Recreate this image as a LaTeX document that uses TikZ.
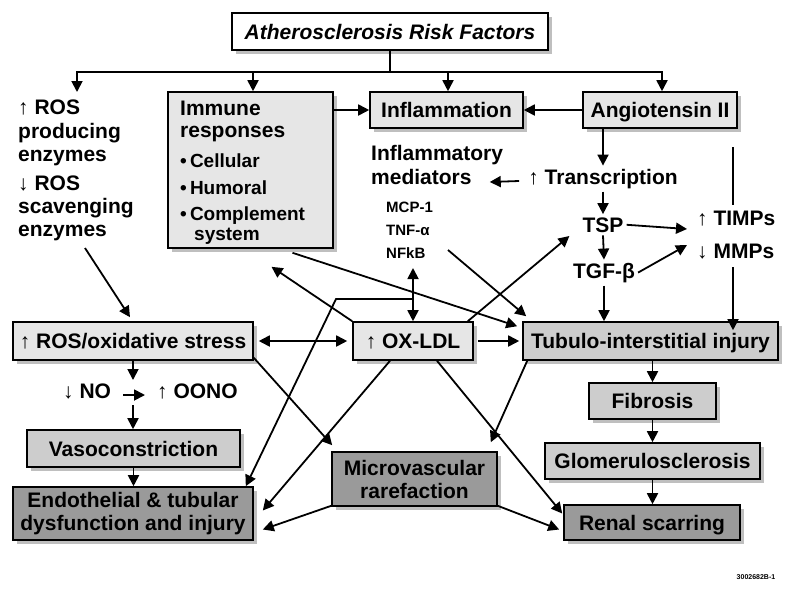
\documentclass[tikz,border=0pt]{standalone}
\usepackage{fontspec}
\setmainfont{Liberation Sans}
\usetikzlibrary{arrows.meta,shadows,calc}
\definecolor{lightbox}{HTML}{E6E6E6}
\definecolor{midbox}{HTML}{CDCDCD}
\definecolor{darkbox}{HTML}{9A9A9A}
\newcommand{\upar}{{\mdseries ↑}}
\newcommand{\dnar}{{\mdseries ↓}}
\begin{document}
\begin{tikzpicture}[x=1pt,y=-1pt,
  bx/.style={draw=black, line width=1.6pt, inner sep=0pt, align=center,
    font=\bfseries\fontsize{21}{23}\selectfont,
    drop shadow={shadow xshift=3.5pt, shadow yshift=-3.5pt, fill=black!50}},
  lb/.style={bx, fill=lightbox},
  mb/.style={bx, fill=midbox},
  db/.style={bx, fill=darkbox},
  one/.style={text height=15pt, text depth=0pt},
  txt/.style={anchor=base west, inner sep=0pt, font=\bfseries\fontsize{21}{23}\selectfont},
  btxt/.style={anchor=base west, inner sep=0pt, font=\bfseries\fontsize{19}{21}\selectfont},
  stxt/.style={anchor=base west, inner sep=0pt, font=\bfseries\fontsize{15}{17}\selectfont},
  ctxt/.style={anchor=base, inner sep=3pt, font=\bfseries\fontsize{21}{23}\selectfont},
  arr/.style={line width=1.8pt, -{Triangle[length=11pt,width=11pt]}},
  darr/.style={line width=1.8pt, {Triangle[length=11pt,width=11pt]}-{Triangle[length=11pt,width=11pt]}},
  ln/.style={line width=1.8pt}]
\useasboundingbox[fill=white] (0,0) rectangle (800,590);

% boxes
\node[bx, one, fill=white, minimum width=316pt, minimum height=37pt,
  font=\bfseries\itshape\fontsize{21}{23}\selectfont] (title) at (390,31.5) {Atherosclerosis Risk Factors};
\node[lb, minimum width=165pt, minimum height=156pt] (immune) at (250.5,170) {};
\node[lb, one, minimum width=153pt, minimum height=36pt] (infl) at (446.5,110) {Inflammation};
\node[lb, one, minimum width=154pt, minimum height=36pt] (ang) at (660,110) {Angiotensin II};
\node[lb, one, minimum width=240pt, minimum height=38pt] (rosbox) at (133,341) {\upar\ ROS/oxidative stress};
\node[lb, one, minimum width=120pt, minimum height=38pt] (oxldl) at (413,341) {\upar\ OX-LDL};
\node[mb, one, minimum width=255pt, minimum height=38pt] (tub) at (650.5,341) {Tubulo-interstitial injury};
\node[mb, one, minimum width=213pt, minimum height=37pt] (vaso) at (133.5,448.5) {Vasoconstriction};
\node[db, minimum width=240pt, minimum height=53pt] (endo) at (133,513.5) {Endothelial \& tubular\\dysfunction and injury};
\node[db, minimum width=165pt, minimum height=54pt] (micro) at (414.5,479) {Microvascular\\rarefaction};
\node[mb, one, minimum width=127pt, minimum height=36pt] (fib) at (652.5,401) {Fibrosis};
\node[mb, one, minimum width=215pt, minimum height=36pt] (glom) at (652.5,461) {Glomerulosclerosis};
\node[db, one, minimum width=176pt, minimum height=35pt] (renal) at (652,522.5) {Renal scarring};

% immune box text
\node[txt] (imm1) at (180,115) {Immune};
\node[txt] (imm2) at (180,137) {responses};
\node[btxt] (imm3) at (180,167) {•\,Cellular};
\node[btxt] (imm4) at (180,194) {•\,Humoral};
\node[btxt] (imm5) at (180,220) {•\,Complement};
\node[btxt] (imm6) at (194,240) {system};

% left ROS text
\node[txt] (ros1) at (18,114) {\upar\ ROS};
\node[txt] (ros2) at (18,138) {producing};
\node[txt] (ros3) at (18,161) {enzymes};
\node[txt] (ros4) at (18,190) {\dnar\ ROS};
\node[txt] (ros5) at (18,213) {scavenging};
\node[txt] (ros6) at (18,236) {enzymes};

% mediators
\node[txt] (med1) at (371,160) {Inflammatory};
\node[txt] (med2) at (371,184) {mediators};
\node[stxt] (mcp) at (386,212) {MCP-1};
\node[stxt] (tnf) at (386,235) {TNF-α};
\node[stxt] (nfkb) at (386,258) {NFkB};

% right column text
\node[ctxt] (trans) at (603,184) {\upar\ Transcription};
\node[ctxt] (tsp) at (603,232) {TSP};
\node[ctxt] (tgf) at (604,278) {TGF-β};
\node[txt] (timps) at (697,225) {\upar\ TIMPs};
\node[txt] (mmps) at (697,258) {\dnar\ MMPs};

% NO / OONO
\node[txt] (no) at (63,398) {\dnar\ NO};
\node[txt] (oono) at (157,398) {\upar\ OONO};

\node[anchor=base, inner sep=0pt, font=\bfseries\fontsize{7}{8}\selectfont] (code) at (756,579) {3002682B-1};

% coordinates
\coordinate (hub) at (390,72);
\coordinate (rosA) at (77,92);
\coordinate (noA) at (133,380);
\coordinate (noB) at (133,405);
\coordinate (br) at (413,299);
\coordinate (brl) at (336,299);
\coordinate (angT) at (733,147);
\coordinate (timT) at (733,205);

% top distribution
\draw[ln] (title.south) -- (hub);
\draw[arr] (hub) -| (rosA);
\draw[arr] (hub) -| ([xshift=2.5pt]immune.north);
\draw[arr] (hub) -| ([xshift=1.5pt]infl.north);
\draw[arr] (hub) -| ([xshift=2pt]ang.north);

\draw[arr] (immune.east |- infl.west) -- (infl.west);
\draw[arr] (ang.west) -- (infl.east);

% angiotensin chain
\draw[arr] (ang.south -| trans.north) -- (trans.north);
\draw[arr] ([shift={(-6,-3)}]trans.base west) -- ([shift={(18,-2)}]med2.base east);
\draw[arr] (trans.south) -- (tsp.north);
\draw[arr] (tsp.south) -- (tgf.north);
\draw[arr] (tgf.south) -- (tgf.south |- tub.north);
\draw[arr] (tsp.east) -- ([shift={(-10,4)}]timps.base west);
\draw[arr] (tgf.east) -- ([shift={(-10,-13)}]mmps.base west);
\draw[ln] (angT) -- (timT);
\draw[arr] ([shift={(36,9)}]mmps.base west) -- ([shift={(36,9)}]mmps.base west |- tub.north);

% NFkB / OX-LDL
\draw[darr] ([shift={(27,10)}]nfkb.base west) -- (oxldl.north);
\draw[arr] (br) -- (brl) -- ([xshift=-8pt]endo.north east);
\draw[arr] (oxldl.north west) -- ([shift={(21,18)}]immune.south);
\draw[arr] ([shift={(42,4)}]immune.south) -- ([shift={(-5,5)}]tub.north west);
\draw[arr] ([shift={(62,-8)}]nfkb.base west) -- ([shift={(4,-5)}]tub.north west);
\draw[arr] ([xshift=-6pt]oxldl.north east) -- ([shift={(-10,4)}]tsp.base west);

% ROS
\draw[arr] ([shift={(67,12)}]ros6.base west) -- ([shift={(-3,-4)}]rosbox.north);
\draw[darr, shorten <=5pt, shorten >=5pt] (rosbox.east) -- (oxldl.west);
\draw[arr, shorten <=4pt, shorten >=3pt] (oxldl.east) -- (tub.west);
\draw[arr] (rosbox.south) -- (noA);
\draw[arr] ([shift={(12,-3)}]no.base east) -- ([shift={(-12,-3)}]oono.base west);
\draw[arr] (noB) -- (noB |- vaso.north);
\draw[arr] (vaso.south) -- (vaso.south |- endo.north);
\draw[arr] ([shift={(0,-3)}]rosbox.south east) -- ([shift={(1,-6)}]micro.north west);

% lower cross connections
\draw[arr] ([xshift=-23pt]oxldl.south) -- ([shift={(9,-3)}]endo.east);
\draw[arr] ([xshift=24pt]oxldl.south) -- ([shift={(-1,-9)}]renal.west);
\draw[arr] ([xshift=5pt]tub.south west) -- ([shift={(-7,-9)}]micro.north east);
\draw[arr] ([shift={(0,-1)}]micro.south west) -- ([shift={(9,16)}]endo.east);
\draw[arr] ([shift={(0,-1)}]micro.south east) -- ([shift={(-4,7)}]renal.west);

% right chain
\draw[arr] (fib.north |- tub.south) -- (fib.north);
\draw[arr] (fib.south) -- (glom.north);
\draw[arr] (glom.south) -- (renal.north -| glom.south);
\end{tikzpicture}
\end{document}
